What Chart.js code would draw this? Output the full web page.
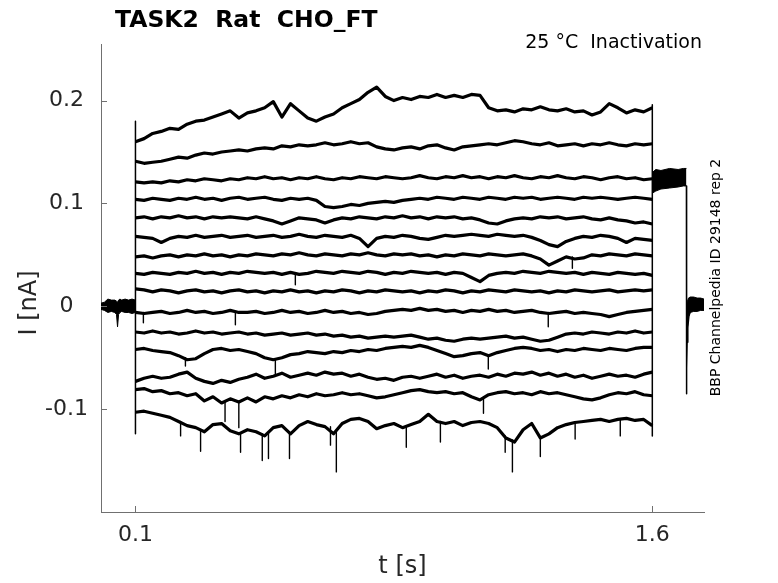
<!DOCTYPE html>
<html><head><meta charset="utf-8">
<script src="https://cdn.jsdelivr.net/npm/chart.js@4.4.1/dist/chart.umd.min.js"></script>
<style>html,body{margin:0;padding:0;background:#fff;}canvas{display:block;}</style>
</head><body>
<canvas id="c" width="778" height="583" style="width:778px;height:583px"></canvas>
<script>
// ---------- data (t in s, I in nA) ----------
const timeGrid = [
 0.100,0.125,0.150,0.175,0.200,0.225,0.250,0.275,0.300,0.325,
 0.350,0.375,0.400,0.425,0.450,0.475,0.500,0.525,0.550,0.575,
 0.600,0.625,0.650,0.675,0.700,0.725,0.750,0.775,0.800,0.825,
 0.850,0.875,0.900,0.925,0.950,0.975,1.000,1.025,1.050,1.075,
 1.100,1.125,1.150,1.175,1.200,1.225,1.250,1.275,1.300,1.325,
 1.350,1.375,1.400,1.425,1.450,1.475,1.500,1.525,1.550,1.575,
 1.600];

const sweep01 = [
 0.160,0.163,0.168,0.170,0.173,0.172,0.177,0.180,0.181,0.184,
 0.187,0.190,0.183,0.188,0.190,0.193,0.199,0.184,0.197,0.190,
 0.183,0.180,0.184,0.187,0.193,0.197,0.201,0.208,0.213,0.204,
 0.200,0.203,0.201,0.204,0.203,0.206,0.203,0.205,0.203,0.206,
 0.205,0.193,0.190,0.191,0.189,0.192,0.191,0.194,0.191,0.190,
 0.192,0.189,0.190,0.186,0.189,0.197,0.193,0.188,0.191,0.189,
 0.193];
const sweep02 = [
 0.141,0.139,0.140,0.141,0.143,0.145,0.144,0.147,0.149,0.148,
 0.150,0.151,0.152,0.151,0.153,0.154,0.153,0.156,0.155,0.157,
 0.156,0.157,0.159,0.157,0.158,0.160,0.158,0.159,0.155,0.153,
 0.152,0.154,0.155,0.153,0.156,0.157,0.154,0.152,0.155,0.156,
 0.157,0.158,0.157,0.159,0.161,0.160,0.158,0.157,0.159,0.156,
 0.157,0.158,0.156,0.158,0.157,0.159,0.157,0.156,0.158,0.157,
 0.158];
const sweep03 = [
 0.121,0.120,0.121,0.120,0.122,0.121,0.123,0.122,0.124,0.123,
 0.122,0.124,0.123,0.125,0.124,0.126,0.124,0.125,0.123,0.125,
 0.124,0.126,0.124,0.123,0.125,0.124,0.126,0.125,0.124,0.126,
 0.125,0.124,0.125,0.127,0.125,0.124,0.126,0.125,0.127,0.125,
 0.126,0.124,0.126,0.125,0.127,0.125,0.124,0.126,0.125,0.127,
 0.125,0.124,0.126,0.125,0.123,0.125,0.126,0.124,0.125,0.123,
 0.124];
const sweep04 = [
 0.104,0.103,0.105,0.104,0.103,0.105,0.104,0.106,0.104,0.105,
 0.103,0.105,0.106,0.104,0.105,0.106,0.104,0.103,0.105,0.104,
 0.105,0.103,0.097,0.096,0.097,0.099,0.098,0.100,0.101,0.102,
 0.101,0.103,0.104,0.105,0.104,0.106,0.105,0.104,0.106,0.105,
 0.104,0.106,0.105,0.104,0.106,0.105,0.106,0.104,0.105,0.106,
 0.105,0.104,0.106,0.105,0.106,0.105,0.104,0.105,0.106,0.105,
 0.104];
const sweep05 = [
 0.086,0.087,0.085,0.087,0.086,0.088,0.086,0.087,0.085,0.087,
 0.086,0.087,0.086,0.085,0.087,0.085,0.083,0.080,0.083,0.086,
 0.085,0.084,0.081,0.084,0.086,0.085,0.087,0.086,0.085,0.087,
 0.086,0.088,0.086,0.087,0.085,0.087,0.086,0.087,0.085,0.086,
 0.084,0.081,0.080,0.083,0.085,0.086,0.085,0.087,0.086,0.087,
 0.085,0.086,0.087,0.085,0.084,0.086,0.084,0.083,0.081,0.082,
 0.080];
const sweep06 = [
 0.068,0.067,0.066,0.062,0.066,0.068,0.067,0.069,0.067,0.068,
 0.069,0.067,0.068,0.069,0.067,0.068,0.069,0.067,0.068,0.070,
 0.068,0.067,0.069,0.068,0.067,0.069,0.066,0.058,0.066,0.068,
 0.067,0.069,0.068,0.066,0.065,0.067,0.069,0.068,0.069,0.070,
 0.069,0.068,0.070,0.069,0.068,0.069,0.067,0.064,0.060,0.058,
 0.063,0.066,0.068,0.067,0.069,0.068,0.066,0.062,0.066,0.065,
 0.064];
const sweep07 = [
 0.048,0.049,0.047,0.049,0.050,0.048,0.050,0.049,0.051,0.049,
 0.050,0.048,0.050,0.049,0.051,0.050,0.049,0.051,0.050,0.052,
 0.050,0.049,0.051,0.050,0.049,0.051,0.050,0.052,0.050,0.049,
 0.051,0.050,0.051,0.049,0.050,0.048,0.050,0.049,0.051,0.050,
 0.049,0.051,0.050,0.049,0.050,0.051,0.049,0.046,0.040,0.044,
 0.048,0.046,0.047,0.050,0.049,0.051,0.050,0.049,0.051,0.050,
 0.049];
const sweep08 = [
 0.032,0.031,0.033,0.032,0.031,0.033,0.032,0.034,0.032,0.033,
 0.031,0.033,0.032,0.034,0.033,0.032,0.033,0.031,0.033,0.031,
 0.032,0.034,0.033,0.032,0.034,0.033,0.032,0.034,0.033,0.031,
 0.033,0.032,0.034,0.033,0.032,0.033,0.031,0.033,0.032,0.028,
 0.024,0.030,0.032,0.033,0.032,0.034,0.033,0.032,0.034,0.033,
 0.032,0.033,0.031,0.033,0.032,0.031,0.033,0.032,0.031,0.032,
 0.030];
const sweep09 = [
 0.017,0.016,0.014,0.016,0.015,0.013,0.015,0.016,0.014,0.015,
 0.013,0.015,0.016,0.014,0.015,0.013,0.015,0.014,0.016,0.014,
 0.015,0.013,0.015,0.014,0.016,0.015,0.013,0.015,0.014,0.016,
 0.015,0.014,0.015,0.013,0.015,0.014,0.016,0.015,0.013,0.015,
 0.014,0.016,0.015,0.014,0.016,0.015,0.014,0.015,0.013,0.015,
 0.014,0.016,0.015,0.014,0.015,0.016,0.014,0.015,0.016,0.015,
 0.016];
const sweep10 = [
 -0.006,-0.007,-0.006,-0.005,-0.007,-0.006,-0.004,-0.006,-0.005,-0.007,
 -0.006,-0.004,-0.006,-0.006,-0.005,-0.007,-0.006,-0.004,-0.006,-0.005,
 -0.007,-0.006,-0.004,-0.006,-0.005,-0.007,-0.006,-0.008,-0.007,-0.005,
 -0.004,-0.003,-0.004,-0.002,-0.004,-0.003,-0.005,-0.004,-0.006,-0.004,
 -0.005,-0.003,-0.005,-0.004,-0.006,-0.005,-0.004,-0.006,-0.007,-0.006,
 -0.005,-0.007,-0.006,-0.007,-0.008,-0.010,-0.008,-0.006,-0.005,-0.004,
 -0.003];
const sweep11 = [
 -0.025,-0.026,-0.024,-0.026,-0.025,-0.027,-0.026,-0.024,-0.026,-0.025,
 -0.027,-0.026,-0.025,-0.027,-0.026,-0.028,-0.027,-0.026,-0.028,-0.027,
 -0.026,-0.028,-0.027,-0.029,-0.028,-0.030,-0.029,-0.031,-0.030,-0.029,
 -0.030,-0.029,-0.028,-0.030,-0.032,-0.031,-0.033,-0.034,-0.032,-0.031,
 -0.032,-0.031,-0.030,-0.029,-0.031,-0.030,-0.032,-0.034,-0.033,-0.030,
 -0.027,-0.026,-0.027,-0.025,-0.026,-0.027,-0.025,-0.026,-0.024,-0.026,
 -0.025];
const sweep12 = [
 -0.042,-0.041,-0.043,-0.044,-0.045,-0.048,-0.052,-0.051,-0.046,-0.042,
 -0.041,-0.043,-0.042,-0.044,-0.046,-0.050,-0.052,-0.050,-0.047,-0.046,
 -0.044,-0.045,-0.046,-0.044,-0.045,-0.043,-0.044,-0.042,-0.043,-0.041,
 -0.040,-0.039,-0.040,-0.038,-0.040,-0.043,-0.046,-0.049,-0.048,-0.046,
 -0.045,-0.048,-0.045,-0.043,-0.041,-0.040,-0.041,-0.043,-0.042,-0.044,
 -0.042,-0.043,-0.041,-0.042,-0.043,-0.041,-0.042,-0.043,-0.041,-0.040,
 -0.040];
const sweep13 = [
 -0.073,-0.070,-0.068,-0.070,-0.069,-0.066,-0.064,-0.070,-0.073,-0.075,
 -0.072,-0.074,-0.071,-0.069,-0.066,-0.070,-0.068,-0.065,-0.069,-0.067,
 -0.065,-0.067,-0.064,-0.066,-0.065,-0.068,-0.066,-0.069,-0.071,-0.070,
 -0.072,-0.069,-0.068,-0.070,-0.068,-0.066,-0.069,-0.067,-0.070,-0.068,
 -0.067,-0.069,-0.066,-0.068,-0.065,-0.066,-0.064,-0.067,-0.065,-0.068,
 -0.066,-0.069,-0.067,-0.070,-0.068,-0.066,-0.068,-0.067,-0.069,-0.066,
 -0.064];
const sweep14 = [
 -0.081,-0.080,-0.083,-0.082,-0.085,-0.084,-0.087,-0.085,-0.092,-0.088,
 -0.094,-0.090,-0.093,-0.089,-0.093,-0.088,-0.090,-0.087,-0.089,-0.086,
 -0.088,-0.085,-0.087,-0.086,-0.084,-0.086,-0.085,-0.087,-0.089,-0.088,
 -0.086,-0.084,-0.082,-0.081,-0.083,-0.084,-0.083,-0.085,-0.084,-0.088,
 -0.091,-0.086,-0.084,-0.083,-0.085,-0.084,-0.086,-0.083,-0.085,-0.084,
 -0.086,-0.088,-0.090,-0.091,-0.089,-0.086,-0.084,-0.085,-0.083,-0.086,
 -0.087];
const sweep15 = [
 -0.103,-0.102,-0.104,-0.106,-0.108,-0.112,-0.116,-0.118,-0.122,-0.115,
 -0.114,-0.121,-0.124,-0.120,-0.122,-0.126,-0.118,-0.116,-0.124,-0.116,
 -0.112,-0.115,-0.117,-0.124,-0.114,-0.110,-0.109,-0.112,-0.119,-0.116,
 -0.114,-0.118,-0.115,-0.112,-0.105,-0.112,-0.114,-0.112,-0.116,-0.113,
 -0.112,-0.114,-0.118,-0.128,-0.132,-0.120,-0.114,-0.128,-0.124,-0.118,
 -0.115,-0.113,-0.112,-0.111,-0.110,-0.112,-0.110,-0.109,-0.111,-0.110,
 -0.116];

// narrow downward spikes: time, level they leave from, deepest value
const spikeT = [0.123,0.390,1.298, 0.245,0.506,1.124, 0.564, 1.368,
                0.360,0.400,1.110,
                0.231,0.289,0.405,0.468,0.486,0.547,0.666,0.683,0.886,0.985,1.173,1.194,1.275,1.376,1.507];
const spikeFrom = [-0.006,-0.006,-0.006, -0.050,-0.052,-0.047, 0.032, 0.048,
                   -0.093,-0.092,-0.090,
                   -0.112,-0.120,-0.123,-0.124,-0.122,-0.122,-0.117,-0.120,-0.116,-0.112,-0.126,-0.130,-0.127,-0.113,-0.110];
const spikeTo = [-0.016,-0.018,-0.020, -0.058,-0.068,-0.061, 0.021, 0.037,
                 -0.112,-0.118,-0.104,
                 -0.126,-0.141,-0.142,-0.150,-0.148,-0.148,-0.135,-0.161,-0.137,-0.132,-0.142,-0.161,-0.146,-0.129,-0.126];

// holding level before the pre-pulse (band of overlapping sweeps)
const preT  = [0.000,0.010,0.020,0.030,0.040,0.045,0.048,0.051,0.055,0.060,0.070,0.080,0.090,0.100];
const preHi = [0.003,0.004,0.007,0.006,0.006,0.005,0.004,0.006,0.007,0.006,0.007,0.006,0.007,0.006];
const preLo = [-0.003,-0.004,-0.006,-0.005,-0.006,-0.008,-0.020,-0.008,-0.006,-0.005,-0.006,-0.006,-0.007,-0.006];

// capacitive transients at the voltage steps
const edgeT      = [0.100, 1.600];
const edgeTop    = [0.180, 0.196];
const edgeBottom = [-0.124, -0.126];

// test pulse (all sweeps overlap)
const tailT  = [1.600,1.610,1.625,1.650,1.675,1.690,1.699];
const tailHi = [0.130,0.133,0.132,0.134,0.133,0.134,0.134];
const tailLo = [0.110,0.112,0.114,0.115,0.116,0.117,0.117];

// return to holding
const dropT = [1.699,1.699,1.700,1.701,1.703,1.706,1.710];
const dropV = [0.117,-0.085,-0.060,-0.035,-0.020,-0.010,-0.005];
const afterT  = [1.700,1.705,1.710,1.720,1.730,1.740,1.750];
const afterHi = [0.003,0.008,0.009,0.009,0.008,0.008,0.007];
const afterLo = [-0.030,-0.010,-0.006,-0.005,-0.005,-0.004,-0.004];

const xTickValues = [0.1, 1.6];
const yTickValues = [-0.1, 0, 0.1, 0.2];

const titleText = 'TASK2  Rat  CHO_FT';
const condText  = '25 °C  Inactivation';
const sideText  = 'BBP Channelpedia ID 29148 rep 2';
const xLabel = 't [s]';
const yLabel = 'I [nA]';

// ---------- build ----------
const FONT = "'DejaVu Sans', sans-serif";
const pts = (xs, ys) => xs.map((x, i) => ({x: x, y: ys[i]}));
const sweeps = [sweep01,sweep02,sweep03,sweep04,sweep05,sweep06,sweep07,sweep08,
                sweep09,sweep10,sweep11,sweep12,sweep13,sweep14,sweep15];

const datasets = [];
datasets.push({data: pts(preT, preHi), borderWidth: 1, fill: false});
datasets.push({data: pts(preT, preLo), borderWidth: 1, fill: '-1', backgroundColor: '#000'});
datasets.push({data: pts(tailT, tailHi), borderWidth: 1, fill: false});
datasets.push({data: pts(tailT, tailLo), borderWidth: 1, fill: '-1', backgroundColor: '#000'});
datasets.push({data: pts(afterT, afterHi), borderWidth: 1, fill: false});
datasets.push({data: pts(afterT, afterLo), borderWidth: 1, fill: '-1', backgroundColor: '#000'});
datasets.push({data: pts(dropT, dropV), borderWidth: 1.5, fill: false});
edgeT.forEach((t, i) => {
  datasets.push({data: [{x: t, y: edgeTop[i]}, {x: t, y: edgeBottom[i]}], borderWidth: 1.5, fill: false});
});
sweeps.forEach(s => {
  datasets.push({data: pts(timeGrid, s), borderWidth: 3.2, fill: false});
});
spikeT.forEach((t, i) => {
  datasets.push({data: [{x: t, y: spikeFrom[i]}, {x: t, y: spikeTo[i]}], borderWidth: 1.4, fill: false});
});

const tickMarks = {
  id: 'tickMarks',
  afterDraw(chart) {
    const {ctx, scales: {x, y}, chartArea: a} = chart;
    ctx.save();
    ctx.strokeStyle = '#707070';
    ctx.lineWidth = 1;
    ctx.beginPath();
    yTickValues.forEach(v => {
      const py = Math.round(y.getPixelForValue(v)) + 0.5;
      ctx.moveTo(a.left, py); ctx.lineTo(a.left + 6, py);
    });
    xTickValues.forEach(v => {
      const px = Math.round(x.getPixelForValue(v)) + 0.5;
      ctx.moveTo(px, a.bottom); ctx.lineTo(px, a.bottom - 6);
    });
    ctx.stroke();
    ctx.restore();
  }
};

const texts = {
  id: 'texts',
  afterDraw(chart) {
    const ctx = chart.ctx;
    ctx.save();
    ctx.fillStyle = '#000';
    ctx.font = "bold 23.5px 'DejaVu Sans'";
    ctx.textAlign = 'left';
    ctx.textBaseline = 'alphabetic';
    ctx.fillText(titleText, 115, 27);
    ctx.font = "19px 'DejaVu Sans'";
    ctx.textAlign = 'right';
    ctx.fillText(condText, 702, 47.5);
    ctx.restore();

    ctx.save();
    ctx.translate(716.5, 277.5);
    ctx.rotate(-Math.PI / 2);
    ctx.fillStyle = '#000';
    ctx.font = "14px 'DejaVu Sans'";
    ctx.textAlign = 'center';
    ctx.textBaseline = 'middle';
    ctx.fillText(sideText, 0, 0);
    ctx.restore();

    ctx.save();
    ctx.translate(30, 303);
    ctx.rotate(-Math.PI / 2);
    ctx.fillStyle = '#262626';
    ctx.font = "24px 'DejaVu Sans'";
    ctx.textAlign = 'center';
    ctx.textBaseline = 'middle';
    ctx.fillText(yLabel, 0, 0);
    ctx.restore();
  }
};

new Chart(document.getElementById('c').getContext('2d'), {
  type: 'line',
  data: {datasets: datasets},
  options: {
    responsive: false,
    animation: false,
    devicePixelRatio: 1,
    layout: {padding: {top: 44, right: 74, bottom: 0, left: 0}},
    plugins: {legend: {display: false}, tooltip: {enabled: false}, title: {display: false}},
    elements: {
      point: {radius: 0, hoverRadius: 0},
      line: {tension: 0, borderColor: '#000', borderJoinStyle: 'round'}
    },
    scales: {
      x: {
        type: 'linear', min: 0, max: 1.75,
        afterFit(s) { s.height = 71; },
        afterBuildTicks(s) { s.ticks = xTickValues.map(v => ({value: v})); },
        grid: {display: false, drawTicks: false},
        border: {display: true, color: '#707070', width: 1},
        ticks: {font: {family: FONT, size: 22}, color: '#262626', padding: 10,
                autoSkip: false, maxRotation: 0, callback: v => String(v)},
        title: {display: true, text: xLabel, font: {family: FONT, size: 24, lineHeight: 1.2},
                color: '#262626', padding: {top: 0, bottom: 2}}
      },
      y: {
        type: 'linear', min: -0.2, max: 0.255,
        afterFit(s) { s.width = 101; },
        afterBuildTicks(s) { s.ticks = yTickValues.map(v => ({value: v})); },
        grid: {display: false, drawTicks: false},
        border: {display: true, color: '#707070', width: 1},
        ticks: {font: {family: FONT, size: 22}, color: '#262626', padding: 13,
                crossAlign: 'center', autoSkip: false, callback: v => String(v)},
        title: {display: false}
      }
    }
  },
  plugins: [tickMarks, texts]
});
</script>
</body></html>
